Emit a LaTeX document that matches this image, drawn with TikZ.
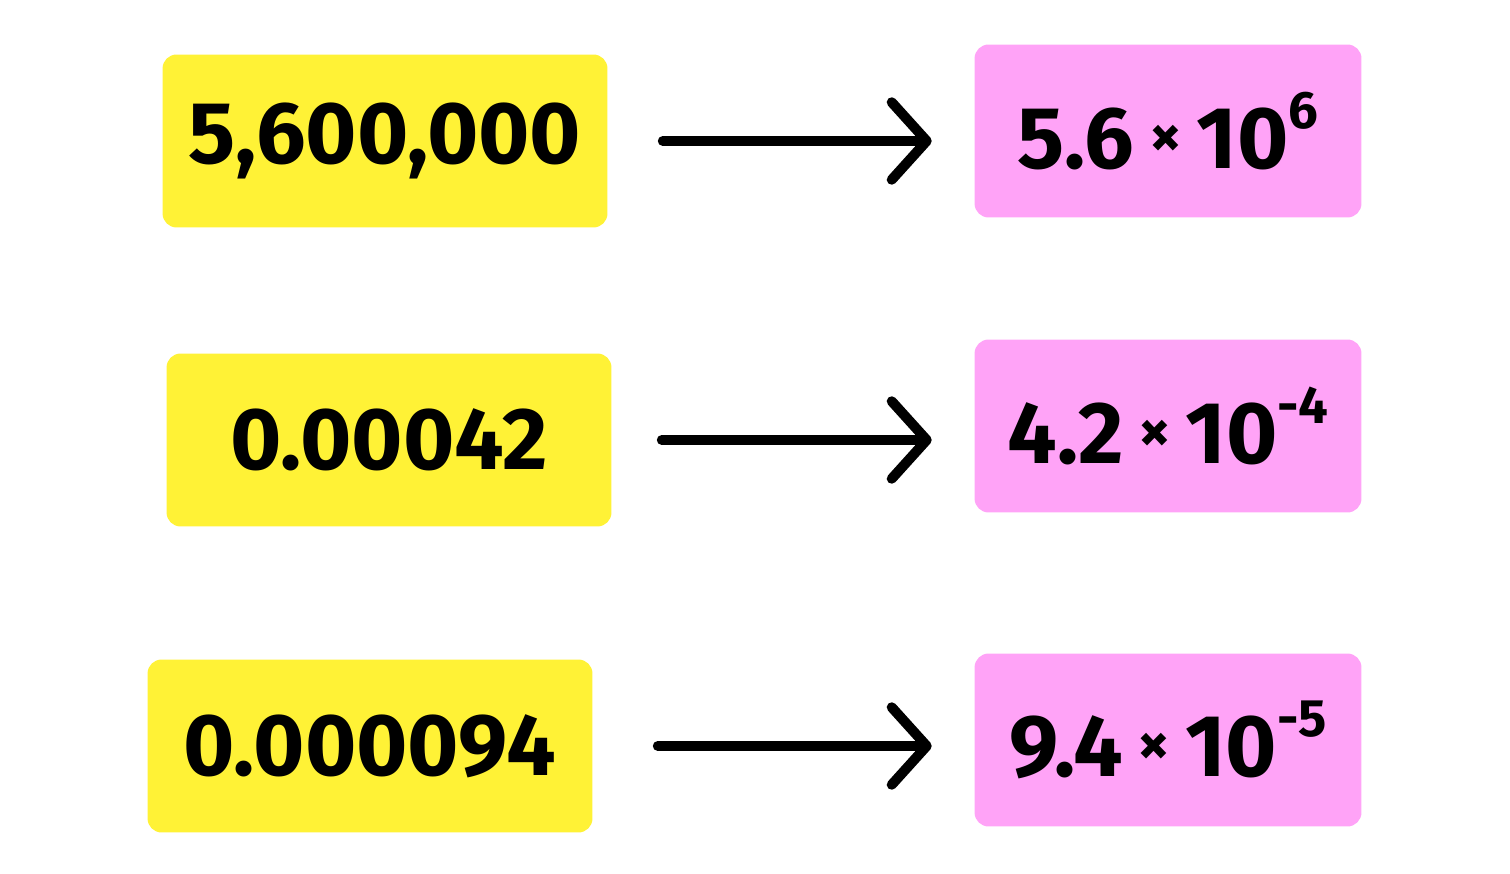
\documentclass[tikz,border=0pt]{standalone}
\usepackage{fontspec}
\setmainfont{Fira Sans}
\usetikzlibrary{arrows.meta}
\definecolor{sticky}{HTML}{FFF236}
\definecolor{result}{HTML}{FFA3F7}
\newcommand{\tenpow}[2]{#1\,\raisebox{0.12em}{\fontsize{36}{36}\selectfont\bfseries ×}\,10\raisebox{0.45em}{\fontsize{30}{30}\selectfont #2}}
\begin{document}
\begin{tikzpicture}
        [x=0.02cm, y=-0.02cm,
        given/.style={fill=sticky, rounded corners=8pt, minimum width=8.9cm, minimum height=3.46cm, font=\fontsize{50}{50}\selectfont\bfseries},
        sci/.style={fill=result, rounded corners=8pt, minimum width=7.74cm, minimum height=3.46cm, font=\fontsize{50}{50}\selectfont\bfseries},
        conv/.style={line width=0.2cm, line cap=round, -{Straight Barb[length=0.7cm, width=1.55cm, line width=0.2cm, round]}}]

        \useasboundingbox (0,0) rectangle (1510,874);

        \node[given] (g1) at (385,141) {5,600,000};
        \node[given] (g2) at (389,440) {0.00042};
        \node[given] (g3) at (370,746) {0.000094};

        \node[sci] (s1) at (1168,131) {\tenpow{5.6}{6}};
        \node[sci] (s2) at (1168,426) {\tenpow{4.2}{-4}};
        \node[sci] (s3) at (1168,740) {\tenpow{9.4}{-5}};

        \draw[conv] ([xshift=1.1cm]g1.east) -- ([xshift=-0.85cm]s1.west |- g1.east);
        \draw[conv] ([xshift=1.0cm]g2.east) -- ([xshift=-0.85cm]s2.west |- g2.east);
        \draw[conv] ([xshift=1.3cm]g3.east) -- ([xshift=-0.85cm]s3.west |- g3.east);
    \end{tikzpicture}
\end{document}
